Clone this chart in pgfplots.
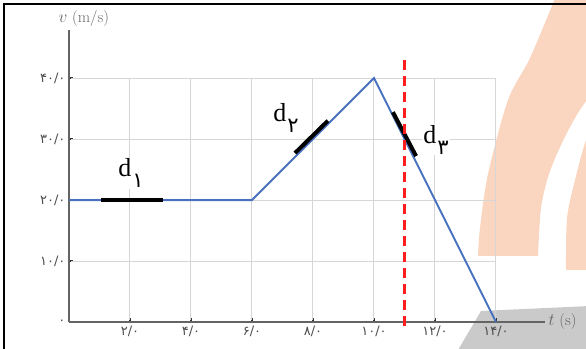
\documentclass[border=0pt]{standalone}
\usepackage{fontspec}
\usepackage{pgfplots}
\pgfplotsset{compat=1.18}
\newfontfamily\arabicfont[Script=Arabic]{DejaVu Sans}
\newfontfamily\dfont{Liberation Serif}
\definecolor{wmorange}{RGB}{250,214,192}
\definecolor{wmgray}{RGB}{202,202,202}
\definecolor{vline}{RGB}{72,112,190}
\definecolor{axgray}{RGB}{100,100,100}
\definecolor{gridgray}{RGB}{214,214,214}
\definecolor{dashred}{RGB}{255,30,30}

% displacement label: d with a Persian subscript digit
\newcommand\dlabel[1]{{\fontsize{26}{28}\selectfont\dfont d}\hspace{1pt}\raisebox{-11pt}{\fontsize{21}{22}\selectfont\arabicfont #1}}

\begin{document}
\begin{tikzpicture}
\useasboundingbox (0pt,0pt) rectangle (586pt,348pt);
% background decoration
\begin{scope}[x=1pt,y=1pt]
\clip (0,0) rectangle (586,348);
\fill[wmorange] plot[smooth] coordinates {(556,352) (530,290) (508,248) (488,174) (480,120) (478,92)}
  -- (538,92) -- plot[smooth] coordinates {(538,92) (541,140) (549,174) (562,205) (578,235) (605,275) (650,352)} -- cycle;
\fill[wmorange] plot[smooth] coordinates {(566,78) (567,130) (575,168) (586,208) (600,240)}
  -- (620,240) -- (620,78) -- cycle;
\fill[wmgray] (458,-2) -- (481,37) -- (590,42) -- (590,-2) -- cycle;
\draw[line width=1.5pt] (4,-2) -- (4,344) -- (590,344);
\end{scope}

\begin{axis}[
  at={(69pt,26pt)}, anchor=origin,
  scale only axis, width=476pt, height=292pt,
  xmin=0, xmax=15.607, ymin=0, ymax=47.87,
  axis x line=bottom, axis y line=left,
  every outer x axis line/.append style={-, draw=axgray, line width=2.4pt},
  every outer y axis line/.append style={-, draw=axgray, line width=2.4pt},
  xtick={2,4,6,8,10,12,14}, ytick={0,10,20,30,40},
  xticklabels={۲/۰,۴/۰,۶/۰,۸/۰,۱۰/۰,۱۲/۰,۱۴/۰},
  yticklabels={۰,۱۰/۰,۲۰/۰,۳۰/۰,۴۰/۰},
  tick style={draw=black!80, line width=1.2pt},
  major tick length=4pt,
  tick align=inside,
  ticklabel style={font=\arabicfont\fontsize{13}{14}\selectfont, text=black!70},
  clip=false,
]
% grid limited to the data range
\pgfplotsinvokeforeach{2,4,6,8,10,12,14}{
  \draw[gridgray, line width=1pt] (axis cs:#1,0.3) -- (axis cs:#1,40);
}
\pgfplotsinvokeforeach{10,20,30,40}{
  \draw[gridgray, line width=1pt] (axis cs:0.07,#1) -- (axis cs:14,#1);
}
% velocity-time graph
\addplot[vline, line width=2pt] coordinates {(0,20) (6,20) (10,40) (14,0)};
% highlighted segments
\addplot[black, line width=4pt] coordinates {(1.05,20) (3.08,20)};
\addplot[black, line width=4pt] coordinates {(7.41,27.7) (8.49,33.0)};
\addplot[black, line width=4pt] coordinates {(10.62,34.4) (11.38,27.2)};
% instant t = 11 s
\addplot[dashred, line width=3.5pt, dash pattern=on 10pt off 6pt] coordinates {(11,42.9) (11,-0.6)};
\node[fill=white, inner sep=1pt, anchor=base west] at (axis cs:1.58,23.8) {\dlabel{۱}};
\node[fill=white, inner sep=1pt, anchor=base west] at (axis cs:6.66,32.8) {\dlabel{۲}};
\node[fill=white, inner sep=1pt, anchor=base west] at (axis cs:11.58,29.3) {\dlabel{۳}};
\end{axis}
\node[anchor=west, text=black!60, font=\fontsize{16}{18}\selectfont] at (55pt,329pt) {$v$ (m/s)};
\node[anchor=west, text=black!60, font=\fontsize{16}{18}\selectfont] at (545pt,26pt) {$t$ (s)};
\end{tikzpicture}
\end{document}
